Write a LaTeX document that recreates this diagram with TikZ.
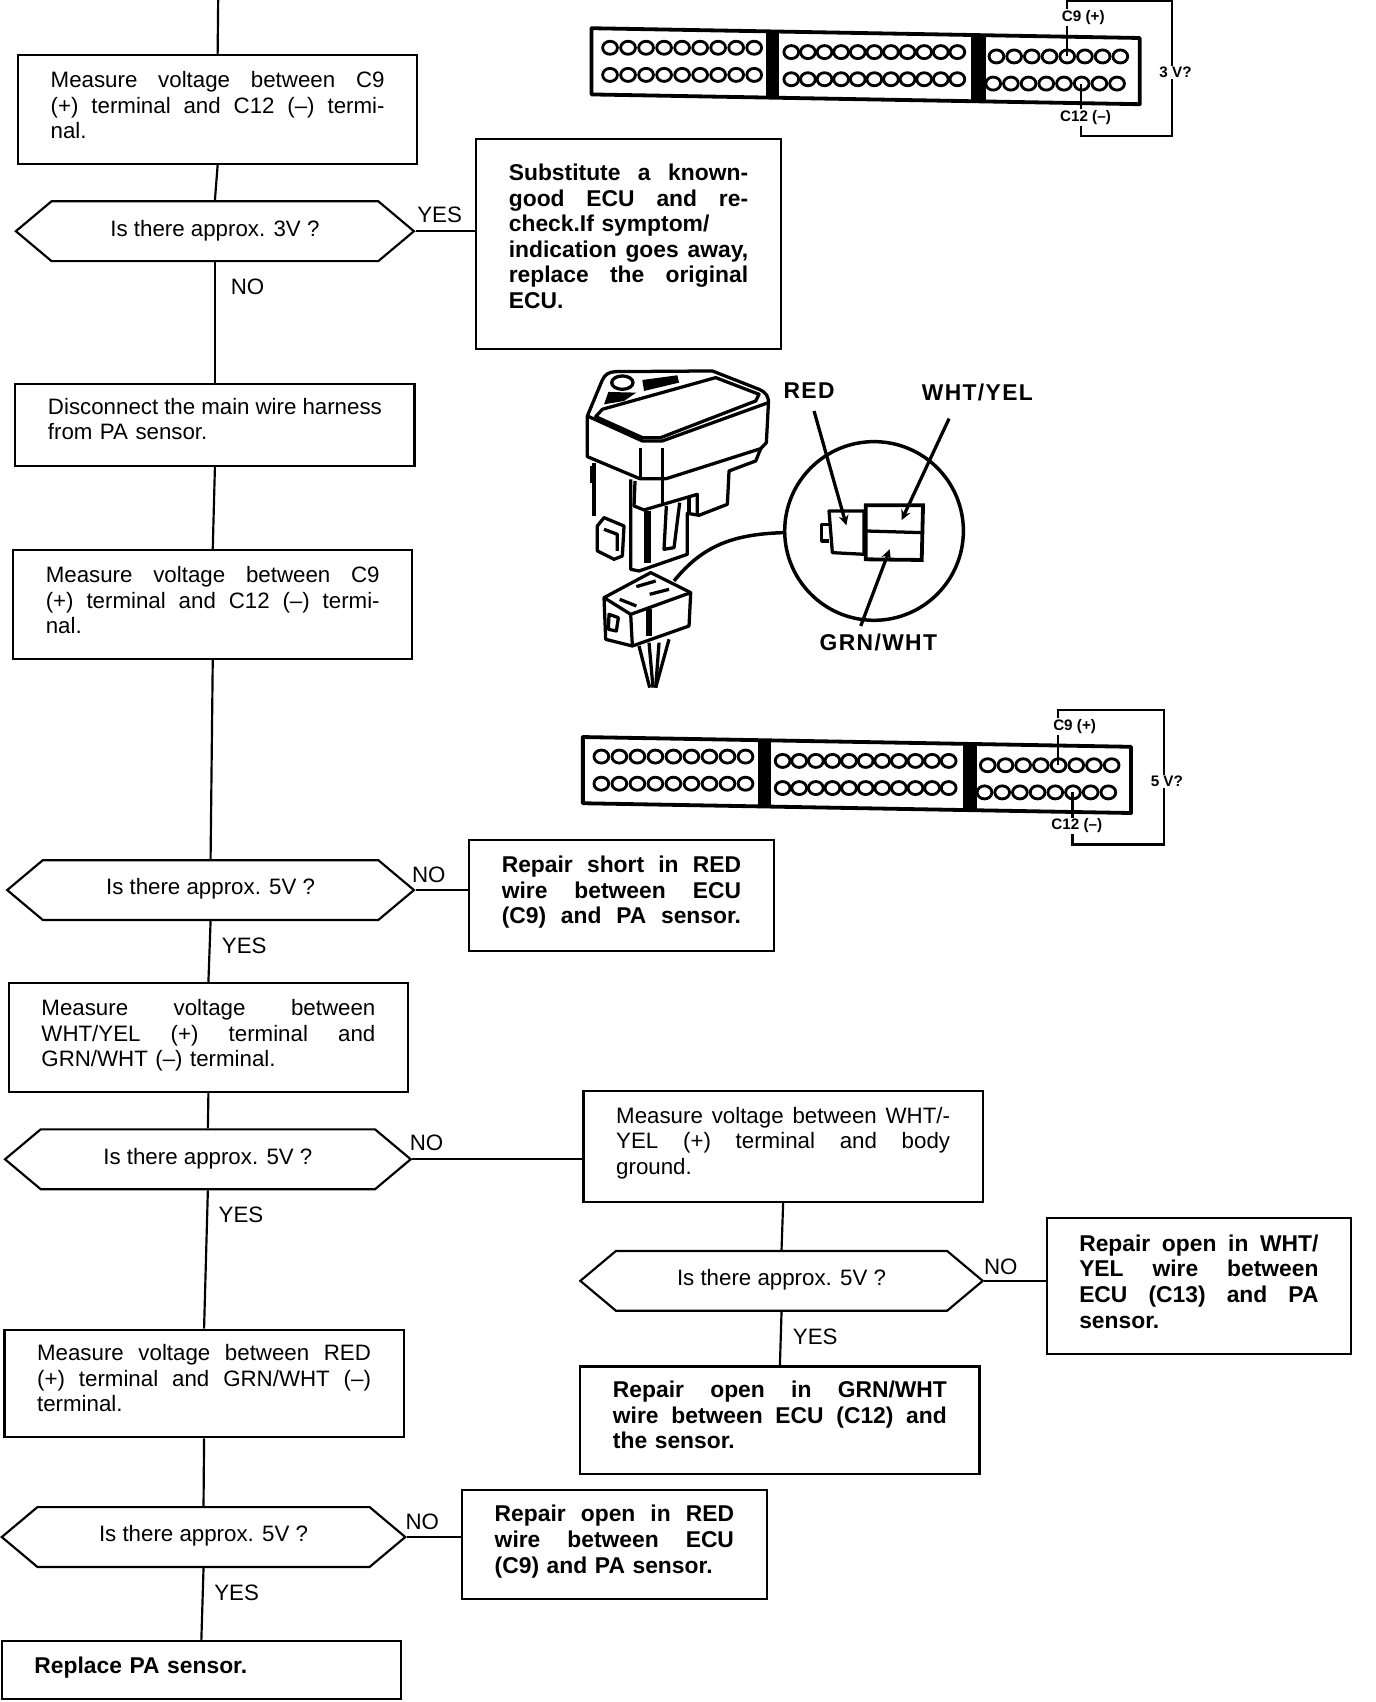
\documentclass[tikz,border=0pt]{standalone}
\usepackage{fontspec}
\setmainfont{Liberation Sans}
\usetikzlibrary{shapes,arrows}
\newcommand{\fl}[1]{\makebox[\hsize][s]{\spaceskip=0pt\xspaceskip=0pt #1}}
\newcommand{\pad}[1]{\rule[-#1pt]{0pt}{1pt}}
\tikzset{
  every node/.style={font=\fontsize{20.5}{23.5}\selectfont},
  stepbox/.style={draw, line width=2pt, inner sep=0pt, align=left, minimum width=367pt, text width=307pt},
  fixbox/.style={stepbox, minimum width=280pt, text width=220pt, font=\fontsize{21}{23.5}\selectfont\bfseries},
  askbox/.style={draw, line width=2pt, inner sep=0pt, signal, signal to=west and east, signal pointer angle=80, minimum height=55pt, text depth=6pt},
  wire/.style={line width=2pt},
  lab/.style={inner sep=0pt},
  pinring/.style={line width=2.6pt},
  part/.style={line width=3pt, line join=round},
  tag/.style={inner sep=0pt, font=\fontsize{21}{24}\selectfont\bfseries\addfontfeature{LetterSpace=6}},
  tiny/.style={inner sep=1pt, fill=white, font=\fontsize{14}{16}\selectfont\bfseries}
}
\begin{document}
\begin{tikzpicture}[x=0.998pt,y=-0.998pt]
  \useasboundingbox (0,0) rectangle (1267.5,1568);

  %left column
  \coordinate (top) at (201,0);
  \node [stepbox, minimum height=100pt] (m1) at (200.5,101) {\fl{Measure voltage between C9}\\ \fl{(+) terminal and C12 (–) termi-}\\ nal.\pad{8}};
  \node [askbox, minimum width=366pt] (q1) at (198,213) {Is there approx. 3V ?};
  \node [stepbox, minimum height=75pt] (m2) at (198,391.5) {\fl{Disconnect the main wire harness}\\ from PA sensor.\pad{11}};
  \node [stepbox, minimum height=100pt] (m3) at (196,557) {\fl{Measure voltage between C9}\\ \fl{(+) terminal and C12 (–) termi-}\\ nal.\pad{8}};
  \node [askbox, minimum width=374pt] (q2) at (194,820) {Is there approx. 5V ?};
  \node [stepbox, minimum height=100pt] (m4) at (192,956) {\fl{Measure voltage between}\\ \fl{WHT/YEL (+) terminal and}\\ GRN/WHT (–) terminal.\pad{8}};
  \node [askbox, minimum width=373pt] (q3) at (191.5,1068) {Is there approx. 5V ?};
  \node [stepbox, minimum height=99pt] (m5) at (188,1274.5) {\fl{Measure voltage between RED}\\ \fl{(+) terminal and GRN/WHT (–)}\\ terminal.\pad{10}};
  \node [askbox, minimum width=371pt] (q4) at (187.5,1416) {Is there approx. 5V ?};
  \node [fixbox, minimum width=367pt, text width=307pt, minimum height=53pt] (f5) at (185.5,1538.5) {Replace PA sensor.\pad{9}};

  %right column
  \node [fixbox, minimum height=193pt] (f1) at (579,224.5) {\fl{Substitute a known-}\\ \fl{good ECU and re-}\\ check.If symptom/\\ \fl{indication goes away,}\\ \fl{replace the original}\\ ECU.\pad{14}};
  \node [fixbox, minimum height=102pt] (f2) at (572.5,825) {\fl{Repair short in RED}\\ \fl{wire between ECU}\\ \fl{(C9) and PA sensor.}\pad{10}};
  \node [stepbox] [minimum height=102pt] (m6) at (721.5,1056) {\fl{Measure voltage between WHT/-}\\ \fl{YEL (+) terminal and body}\\ ground.\pad{10}};
  \node [askbox, minimum width=370pt] (q5) at (720,1180) {Is there approx. 5V ?};
  \node [fixbox, minimum height=125pt] (f3) at (1104.5,1184.5) {\fl{Repair open in WHT/}\\ \fl{YEL wire between}\\ \fl{ECU (C13) and PA}\\ sensor.\pad{8}};
  \node [fixbox, minimum width=367pt, text width=307pt, minimum height=99pt] (f4) at (718.5,1308.5) {\fl{Repair open in GRN/WHT}\\ \fl{wire between ECU (C12) and}\\ the sensor.\pad{10}};
  \node [fixbox, minimum height=100pt] (f6) at (566,1423) {\fl{Repair open in RED}\\ \fl{wire between ECU}\\ (C9) and PA sensor.\pad{10}};

  \draw [wire] (top) -- (m1.north);
  \draw [wire] (m1.south) -- (q1.north);
  \draw [wire] (q1.south) -- (m2.north);
  \draw [wire] (m2.south) -- (m3.north);
  \draw [wire] (m3.south) -- (q2.north);
  \draw [wire] (q2.south) -- (m4.north);
  \draw [wire] (m4.south) -- (q3.north);
  \draw [wire] (q3.south) -- (m5.north);
  \draw [wire] (m5.south) -- (q4.north);
  \draw [wire] (q4.south) -- (f5.north);
  \draw [wire] (m6.south) -- (q5.north);
  \draw [wire] (q5.south) -- (f4.north);
  \draw [wire] (q1.east) -- (q1.east -| f1.west);
  \draw [wire] (q2.east) -- (q2.east -| f2.west);
  \draw [wire] (q3.east) -- (q3.east -| m6.west);
  \draw [wire] (q5.east) -- (q5.east -| f3.west);
  \draw [wire] (q4.east) -- (q4.east -| f6.west);

  \node [lab] (y1) at (405,198) {YES};
  \node [lab] (n1) at (228,264) {NO};
  \node [lab] (n2) at (395,806) {NO};
  \node [lab] (y2) at (225,871) {YES};
  \node [lab] (n3) at (393,1053) {NO};
  \node [lab] (y3) at (222,1119) {YES};
  \node [lab] (n4) at (922,1167) {NO};
  \node [lab] (y4) at (751,1232) {YES};
  \node [lab] (n5) at (389,1402) {NO};
  \node [lab] (y5) at (218,1467) {YES};

  %ecu plugs
  \foreach \sx/\sy/\volt in {0/0/3 V?, -8/653/5 V?}
  {
    \begin{scope}[shift={(\sx,\sy)}]
      \draw [line width=3.5pt, line join=round] (545,26) -- (1050,35) -- (1050,96) -- (545,87) -- cycle;
      \fill (706,29) -- (718,29) -- (718,90) -- (706,90) -- cycle;
      \fill (895,33) -- (908,33) -- (908,93) -- (895,93) -- cycle;
      \foreach \xa/\ya/\yb/\num/\dx in {562/44/69/8/16.6, 729/48/73/10/15.3}
        \foreach \i in {0,...,\num}
        {
          \draw [pinring] ({\xa+\i*\dx},\ya) ellipse (6.8 and 6);
          \draw [pinring] ({\xa+\i*\dx},\yb) ellipse (6.8 and 6);
        }
      \foreach \i in {0,...,7}
      {
        \draw [pinring] ({918+\i*16.3},52) ellipse (6.8 and 6);
        \draw [pinring] ({915+\i*16.3},77) ellipse (6.8 and 6);
      }
      \node [tiny] (cplus) at (998,16) {C9 (+)};
      \node [tiny] (cminus) at (1000,108) {C12 (–)};
      \coordinate (pa) at (983,52);
      \coordinate (pb) at (996,77);
      \draw [wire] (pa) -- (cplus.south -| pa);
      \draw [wire] (cplus.north -| pa) -- (983,1) -| (1080,125) -| (cminus.south -| pb);
      \draw [wire] (pb) -- (cminus.north -| pb);
      \node [tiny] (volt) at (1083,67) {\volt};
    \end{scope}
  }

  %sensor and its plug
  \begin{scope}[shift={(515,331)}, x=0.3065pt, y=-0.3065pt]
    \draw [part] (85,170) -- (130,62) .. controls (138,45) and (150,38) .. (170,37) -- (460,35) -- (600,90) .. controls (622,100) and (630,112) .. (628,135) -- (622,250) -- (605,268) -- (322,358) -- (242,358) -- (85,292) -- cycle;
    \draw [part] (85,170) -- (250,245) -- (310,245) -- (628,130);
    \draw [part] (110,172) -- (130,150) -- (470,55) -- (600,105) -- (590,125) -- (305,235) -- (250,235) -- cycle;
    \draw [part] (245,265) -- (245,358);
    \draw [part] (310,265) -- (310,358);
    \draw [part] (190,70) ellipse (32 and 20);
    \fill (250,62) -- (355,48) -- (360,70) -- (255,95) -- cycle;
    \fill (148,98) -- (232,100) -- (195,125) -- (135,135) -- cycle;
    \draw [part] (105,312) -- (105,470);
    \draw [line width=5pt] (100,320) -- (100,370);
    \draw [part] (215,360) -- (215,630) -- (240,635) -- (385,585) -- (385,462) -- (420,468) -- (505,435) -- (510,335) -- (590,305) -- (605,268);
    \draw [part] (228,365) -- (225,440) -- (255,452) -- (415,405) -- (415,465);
    \draw [part] (310,362) -- (310,440);
    \draw [line width=6pt] (265,455) -- (265,610);
    \draw [part] (322,440) -- (315,570) -- (345,565) -- (362,430);
    \draw [part] (390,412) -- (390,462);
    \draw [part] (115,500) -- (135,475) -- (195,500) -- (190,590) -- (165,600) -- (115,575) -- cycle;
    \draw [part] (135,510) -- (175,525) -- (175,575);
    %plug
    \draw [part] (135,715) -- (275,640) -- (395,700) -- (390,800) -- (220,860) -- (140,840) -- cycle;
    \draw [part] (135,715) -- (215,765) -- (395,700);
    \draw [part] (215,765) -- (220,860);
    \draw [line width=5pt] (270,748) -- (270,830);
    \draw [part] (232,682) -- (290,665);
    \draw [part] (272,705) -- (330,690);
    \draw [part] (182,720) -- (232,740);
    \draw [part] (150,765) -- (178,775) -- (172,815) -- (148,810) -- cycle;
    \draw [part] (240,860) -- (272,985);
    \draw [part] (270,850) -- (282,985);
    \draw [part] (300,850) -- (290,985);
    \draw [part] (330,840) -- (290,985);
    \draw [line width=3.2pt] (345,665) .. controls (430,560) and (520,525) .. (672,520);
    %detail circle
    \draw [line width=3.2pt] (945,515) circle (268);
    \draw [part] (810,455) -- (915,455) -- (915,585) -- (820,580) -- cycle;
    \draw [part] (810,495) -- (788,495) -- (788,545) -- (810,545);
    \draw [line width=3.5pt] (920,438) -- (1092,438) -- (1088,602) -- (920,600) -- cycle;
    \draw [line width=3pt] (920,515) -- (1088,520);
    \draw [part, -stealth] (765,155) -- (862,498);
    \draw [part, -stealth] (1170,178) -- (1028,482);
    \draw [part, -stealth] (905,800) -- (992,570);
    \node [tag] (red) at (750,95) {RED};
    \node [tag] (wy) at (1255,100) {WHT/YEL};
    \node [tag] (gw) at (958,850) {GRN/WHT};
  \end{scope}
\end{tikzpicture}
\end{document}
